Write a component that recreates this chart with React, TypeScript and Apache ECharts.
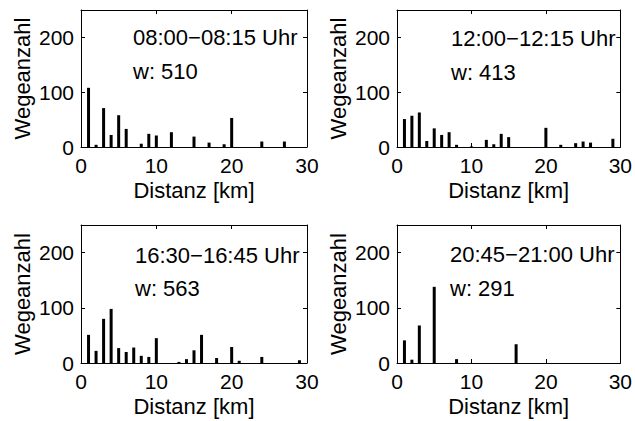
import React, { useEffect, useRef } from "react";
import * as echarts from "echarts";

// Distance bins (km) and trip counts per time window
const dist1 = [1, 2, 3, 4, 5, 6, 8, 9, 10, 12, 15, 17, 19, 20, 24, 27];
const count1 = [108, 4, 71, 22, 58, 33, 6, 24, 21, 27, 19, 8, 5, 53, 10, 10];

const dist2 = [1, 2, 3, 4, 5, 6, 7, 8, 10, 12, 13, 14, 15, 20, 22, 24, 25, 26, 29];
const count2 = [51, 57, 63, 11, 34, 22, 27, 4, 1, 13, 5, 24, 18, 35, 4, 7, 10, 8, 15];

const dist3 = [1, 2, 3, 4, 5, 6, 7, 8, 9, 10, 13, 14, 15, 16, 18, 20, 21, 24, 29];
const count3 = [51, 22, 80, 98, 27, 20, 28, 13, 11, 45, 2, 7, 23, 51, 9, 29, 4, 11, 5];

const dist4 = [1, 2, 3, 5, 8, 16];
const count4 = [41, 6, 68, 138, 7, 34];

const titles = ["08:00\u221208:15 Uhr", "12:00\u221212:15 Uhr", "16:30\u221216:45 Uhr", "20:45\u221221:00 Uhr"];
const totals = ["w: 510", "w: 413", "w: 563", "w: 291"];

const xTicks = [0, 10, 20, 30];
const yTicks = [0, 100, 200];

const panels = [
  { d: dist1, c: count1 },
  { d: dist2, c: count2 },
  { d: dist3, c: count3 },
  { d: dist4, c: count4 },
];

const FONT = "Liberation Sans";

export default function App() {
  const ref = useRef<HTMLDivElement>(null);
  useEffect(() => {
    if (!ref.current) return;
    const chart = echarts.init(ref.current, null, { renderer: "svg" });
    const grids = [
      { left: 81, top: 10, width: 226, height: 137 },
      { left: 397, top: 10, width: 226, height: 137 },
      { left: 81, top: 225, width: 226, height: 138 },
      { left: 397, top: 225, width: 226, height: 138 },
    ];
    const xAxes: any[] = [];
    const yAxes: any[] = [];
    const tickStyle = { show: true, inside: true, length: 4, lineStyle: { color: "#000", width: 1 } };
    const lineStyle = { show: true, onZero: false, lineStyle: { color: "#000", width: 1 } };
    grids.forEach((_, i) => {
      xAxes.push({
        type: "value",
        gridIndex: i,
        min: xTicks[0],
        max: xTicks[xTicks.length - 1],
        interval: 10,
        position: "bottom",
        axisLine: lineStyle,
        axisTick: tickStyle,
        splitLine: { show: false },
        axisLabel: { color: "#000", fontSize: 21, fontFamily: FONT, margin: 8 },
        name: "Distanz [km]",
        nameLocation: "middle",
        nameGap: 32,
        nameTextStyle: { color: "#000", fontSize: 22, fontFamily: FONT },
      });
      yAxes.push({
        type: "value",
        gridIndex: i,
        min: 0,
        max: 250,
        interval: 100,
        position: "left",
        axisLine: lineStyle,
        axisTick: tickStyle,
        splitLine: { show: false },
        axisLabel: {
          color: "#000",
          fontSize: 21,
          fontFamily: FONT,
          margin: 7,
          formatter: (v: number) => (yTicks.includes(v) ? String(v) : ""),
        },
        name: "Wegeanzahl",
        nameLocation: "middle",
        nameGap: 48,
        nameTextStyle: { color: "#000", fontSize: 22, fontFamily: FONT },
      });
    });
    grids.forEach((_, i) => {
      xAxes.push({
        type: "value",
        gridIndex: i,
        min: 0,
        max: 30,
        interval: 10,
        position: "top",
        axisLine: lineStyle,
        axisTick: tickStyle,
        splitLine: { show: false },
        axisLabel: { show: false },
      });
      yAxes.push({
        type: "value",
        gridIndex: i,
        min: 0,
        max: 250,
        interval: 100,
        position: "right",
        axisLine: lineStyle,
        axisTick: tickStyle,
        splitLine: { show: false },
        axisLabel: { show: false },
      });
    });
    const series = panels.map((p, i) => ({
      type: "bar",
      xAxisIndex: i,
      yAxisIndex: i,
      barWidth: 3,
      itemStyle: { color: "#000" },
      data: p.d.map((x, k) => [x, p.c[k]]),
    }));
    const textPos = [
      { x: 133, y1: 37.5, y2: 71.5 },
      { x: 451, y1: 38, y2: 72 },
      { x: 135, y1: 255, y2: 288 },
      { x: 450, y1: 254, y2: 288 },
    ];
    const graphic: any[] = [];
    textPos.forEach((t, i) => {
      graphic.push({
        type: "text",
        x: t.x,
        y: t.y1,
        style: { text: titles[i], fill: "#000", font: `22px "${FONT}"`, verticalAlign: "middle", align: "left" },
      });
      graphic.push({
        type: "text",
        x: t.x,
        y: t.y2,
        style: { text: totals[i], fill: "#000", font: `22px "${FONT}"`, verticalAlign: "middle", align: "left" },
      });
    });
    chart.setOption({
      animation: false,
      backgroundColor: "#fff",
      grid: grids.map((g) => ({ ...g, show: false })),
      xAxis: xAxes,
      yAxis: yAxes,
      series,
      graphic,
    });
    return () => chart.dispose();
  }, []);
  return (
    <div
      ref={ref}
      style={{ position: "fixed", left: 0, top: 0, width: 635, height: 421, background: "#fff" }}
    />
  );
}
